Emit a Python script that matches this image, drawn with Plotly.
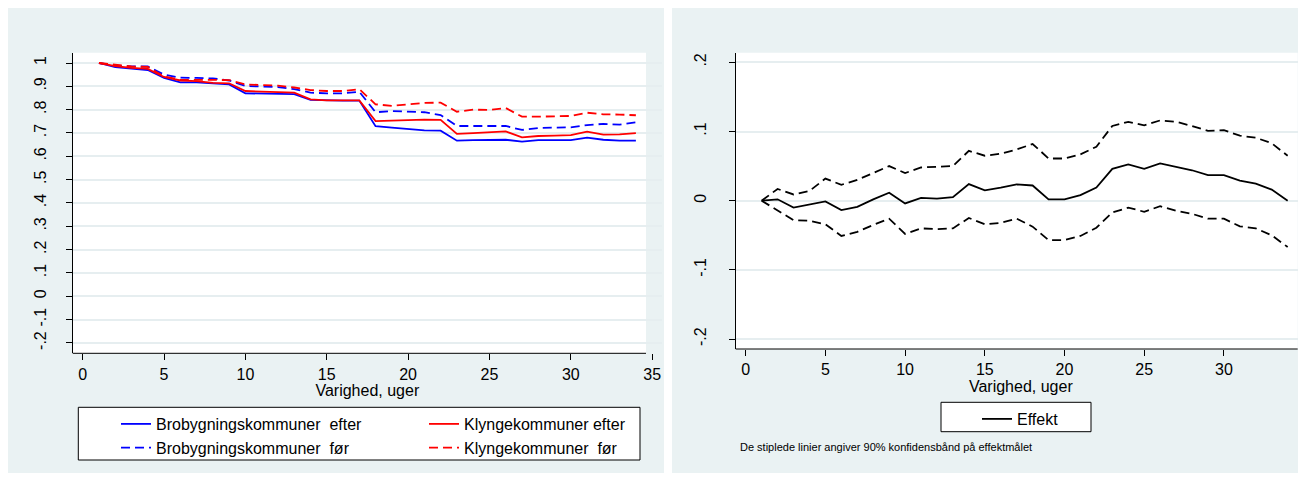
import plotly.graph_objects as go

# the page body has an 8px margin, so the figure sits at (8, 8) in the 1306x477 window
OFF = 8
W, H = 1306 - OFF, 477 - OFF
FONT = "Liberation Sans, Arial, sans-serif"
PANEL = "#eaf2f3"
GRID = "#e6eef0"

# ---- data ----
weeks = list(range(1, 35))

bro_efter = [1.0, 0.982, 0.976, 0.970, 0.936, 0.917, 0.917, 0.911, 0.908, 0.870,
             0.868, 0.867, 0.867, 0.842, 0.839, 0.839, 0.839, 0.729, 0.723, 0.717,
             0.711, 0.710, 0.667, 0.669, 0.669, 0.671, 0.663, 0.669, 0.669, 0.669,
             0.680, 0.671, 0.667, 0.667]
klynge_efter = [1.0, 0.987, 0.979, 0.975, 0.940, 0.925, 0.922, 0.915, 0.913, 0.880,
                0.877, 0.876, 0.873, 0.844, 0.840, 0.840, 0.840, 0.751, 0.753, 0.756,
                0.757, 0.756, 0.696, 0.699, 0.703, 0.707, 0.681, 0.687, 0.689, 0.691,
                0.706, 0.693, 0.694, 0.699]
bro_foer = [1.0, 0.990, 0.985, 0.985, 0.950, 0.937, 0.936, 0.934, 0.925, 0.902,
            0.899, 0.897, 0.888, 0.873, 0.870, 0.870, 0.877, 0.789, 0.794, 0.791,
            0.789, 0.777, 0.730, 0.730, 0.731, 0.730, 0.713, 0.721, 0.723, 0.724,
            0.734, 0.739, 0.736, 0.746]
klynge_foer = [1.0, 0.992, 0.985, 0.983, 0.942, 0.928, 0.928, 0.930, 0.927, 0.908,
               0.905, 0.903, 0.895, 0.884, 0.880, 0.880, 0.888, 0.823, 0.816, 0.823,
               0.829, 0.830, 0.791, 0.800, 0.799, 0.807, 0.770, 0.770, 0.770, 0.773,
               0.787, 0.780, 0.779, 0.776]

effekt = [0.0, 0.002, -0.010, -0.006, -0.001, -0.0135, -0.009, 0.002, 0.0115, -0.004,
          0.004, 0.003, 0.005, 0.024, 0.015, 0.019, 0.0236, 0.022, 0.002, 0.002,
          0.008, 0.019, 0.046, 0.0525, 0.046, 0.054, 0.049, 0.044, 0.037, 0.037,
          0.029, 0.0246, 0.016, 0.0]
effekt_upper = [0.0, 0.017, 0.009, 0.014, 0.032, 0.023, 0.030, 0.040, 0.050, 0.040,
                0.048, 0.049, 0.050, 0.072, 0.065, 0.068, 0.074, 0.082, 0.061, 0.061,
                0.067, 0.078, 0.108, 0.114, 0.109, 0.116, 0.114, 0.108, 0.101, 0.102,
                0.094, 0.091, 0.083, 0.065]
effekt_lower = [0.0, -0.0135, -0.028, -0.029, -0.034, -0.051, -0.045, -0.035, -0.026, -0.048,
                -0.040, -0.041, -0.040, -0.025, -0.034, -0.032, -0.026, -0.0375, -0.057, -0.057,
                -0.051, -0.039, -0.017, -0.010, -0.016, -0.008, -0.0145, -0.019, -0.026, -0.026,
                -0.037, -0.040, -0.050, -0.067]

x_ticks = [0, 5, 10, 15, 20, 25, 30, 35]
left_yticks = [-0.2, -0.1, 0, 0.1, 0.2, 0.3, 0.4, 0.5, 0.6, 0.7, 0.8, 0.9, 1.0]
left_ylabels = ["-.2", "-.1", "0", ".1", ".2", ".3", ".4", ".5", ".6", ".7", ".8", ".9", "1"]
right_yticks = [-0.2, -0.1, 0, 0.1, 0.2]
right_ylabels = ["-.2", "-.1", "0", ".1", ".2"]

DASH = "9px,5px"
LW = 1.8


def px(a):
    # window pixel -> paper fraction
    return (a - OFF) / W


def py(a):
    return 1 - (a - OFF) / H


fig = go.Figure()

# left panel: one legend per legend column
fig.add_trace(go.Scatter(x=weeks, y=bro_efter, name="Brobygningskommuner\u00a0 efter",
                         line=dict(color="#0000ff", width=LW), legend="legend"))
fig.add_trace(go.Scatter(x=weeks, y=bro_foer, name="Brobygningskommuner\u00a0 før",
                         line=dict(color="#0000ff", width=LW, dash=DASH), legend="legend"))
fig.add_trace(go.Scatter(x=weeks, y=klynge_efter, name="Klyngekommuner efter",
                         line=dict(color="#ff0000", width=LW), legend="legend3"))
fig.add_trace(go.Scatter(x=weeks, y=klynge_foer, name="Klyngekommuner\u00a0 før",
                         line=dict(color="#ff0000", width=LW, dash=DASH), legend="legend3"))

# right panel
fig.add_trace(go.Scatter(x=weeks, y=effekt, name="Effekt", xaxis="x2", yaxis="y2",
                         line=dict(color="black", width=LW), legend="legend2"))
fig.add_trace(go.Scatter(x=weeks, y=effekt_upper, xaxis="x2", yaxis="y2", showlegend=False,
                         line=dict(color="black", width=LW, dash=DASH)))
fig.add_trace(go.Scatter(x=weeks, y=effekt_lower, xaxis="x2", yaxis="y2", showlegend=False,
                         line=dict(color="black", width=LW, dash=DASH)))

# pixel anchors of the two plot regions (window pixels)
L = dict(x0=82.7, xu=16.27, left=72.7, right=646, end=662, top=52.7, bottom=353.3,
         y0=296.3, yu=233.3, standoff=13)
R = dict(x0=745.7, xu=15.94, left=735.7, right=1297.7, end=1306, top=52.7, bottom=349,
         y0=200.7, yu=692, standoff=16)


def xr(p, a):
    return (a - p["x0"]) / p["xu"]


def yr(p, a):
    return (p["y0"] - a) / p["yu"]


axis_font = dict(family=FONT, size=16, color="black")


def xaxis(p, anchor):
    return dict(domain=[px(p["left"]), px(p["end"])], range=[xr(p, p["left"]), xr(p, p["end"])],
                anchor=anchor, tickvals=x_ticks, ticks="outside", ticklen=6, tickcolor="black",
                showgrid=False, zeroline=False, showline=False, tickfont=axis_font,
                title=dict(text="Varighed, uger", font=axis_font, standoff=0))


def yaxis(p, anchor, vals, labels):
    return dict(domain=[py(p["bottom"]), py(p["top"])], range=[yr(p, p["bottom"]), yr(p, p["top"])],
                anchor=anchor, tickvals=vals, ticktext=labels, tickangle=-90, ticks="outside",
                ticklen=6, tickcolor="black", showgrid=True, gridcolor=GRID, gridwidth=1.5,
                zeroline=False, showline=True, linecolor="black", linewidth=1,
                tickfont=axis_font, ticklabelstandoff=p["standoff"])


shapes = []
# panel backgrounds
for x0, x1 in [(8, 664), (672, 1306)]:
    shapes.append(dict(type="rect", xref="paper", yref="paper", x0=px(x0), x1=px(x1),
                       y0=py(473), y1=py(8), fillcolor=PANEL, line=dict(width=0), layer="below"))
# white plot regions + x axis lines
for p in (L, R):
    shapes.append(dict(type="rect", xref="paper", yref="paper", x0=px(p["left"]), x1=px(p["right"]),
                       y0=py(p["bottom"]), y1=py(p["top"]), fillcolor="white",
                       line=dict(width=0), layer="below"))
    shapes.append(dict(type="line", xref="paper", yref="paper", x0=px(p["left"]), x1=px(p["right"]),
                       y0=py(p["bottom"]), y1=py(p["bottom"]), line=dict(color="black", width=1),
                       layer="above"))
# legend boxes
for x0, x1, y0, y1 in [(78.3, 640, 407.3, 460), (941, 1091, 402.3, 431.7)]:
    shapes.append(dict(type="rect", xref="paper", yref="paper", x0=px(x0), x1=px(x1),
                       y0=py(y1), y1=py(y0), fillcolor="white",
                       line=dict(color="black", width=1), layer="below"))

legend_common = dict(bgcolor="rgba(0,0,0,0)", borderwidth=0,
                     font=dict(family=FONT, size=16, color="black"), orientation="v",
                     xanchor="left", yanchor="top", tracegroupgap=0)

fig.update_layout(
    width=W, height=H,
    margin=dict(l=0, r=0, t=0, b=0),
    paper_bgcolor="white",
    plot_bgcolor="rgba(0,0,0,0)",
    xaxis=xaxis(L, "y"),
    yaxis=yaxis(L, "x", left_yticks, left_ylabels),
    xaxis2=xaxis(R, "y2"),
    yaxis2=yaxis(R, "x2", right_yticks, right_ylabels),
    shapes=shapes,
    legend=dict(legend_common, x=px(116), y=py(407)),
    legend3=dict(legend_common, x=px(424), y=py(407)),
    legend2=dict(legend_common, x=px(977), y=py(402)),
    annotations=[dict(text="De stiplede linier angiver 90% konfidensbånd på effektmålet",
                      xref="paper", yref="paper", x=px(738), y=py(447), xanchor="left",
                      yanchor="middle", showarrow=False,
                      font=dict(family=FONT, size=11, color="black"))],
    showlegend=True,
)

fig.write_html("out.html")
